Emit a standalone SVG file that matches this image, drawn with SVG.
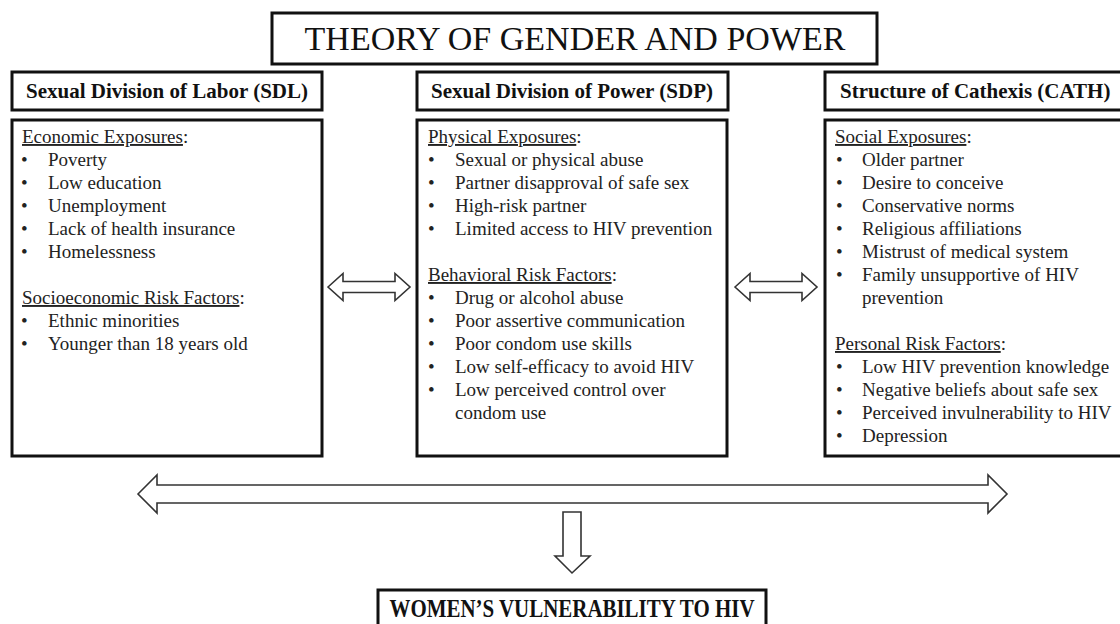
<svg xmlns="http://www.w3.org/2000/svg" width="1120" height="624" viewBox="0 0 1120 624">
<style>
.box{fill:#fff;stroke:#111;stroke-width:3}
.title{font-family:"Liberation Serif","Times New Roman",serif;font-size:34px;fill:#111}
.hdr{font-family:"Liberation Serif","Times New Roman",serif;font-size:21px;font-weight:bold;fill:#111}
.body{font-family:"Liberation Serif","Times New Roman",serif;font-size:19px;fill:#222}
.u{text-decoration:underline}
.arrow{fill:#fff;stroke:#333;stroke-width:1.6;stroke-linejoin:miter}
.bottom{font-family:"Liberation Serif","Times New Roman",serif;font-size:25px;font-weight:bold;fill:#111}
</style>
<rect width="1120" height="624" fill="#fff"/>
<g id="title">
<rect class="box" x="272" y="13" width="605" height="51"/>
<text class="title" x="575" y="50" text-anchor="middle">THEORY OF GENDER AND POWER</text>
</g>
<g id="sdl-header">
<rect class="box" x="12" y="72" width="310" height="38"/>
<text class="hdr" x="167" y="98" text-anchor="middle">Sexual Division of Labor (SDL)</text>
</g>
<g id="sdl-body">
<rect class="box" x="12" y="120" width="310" height="336"/>
<g class="body">
<text x="22" y="143"><tspan class="u">Economic Exposures</tspan>:</text>
<text x="21" y="166">•</text><text x="48" y="166">Poverty</text>
<text x="21" y="189">•</text><text x="48" y="189">Low education</text>
<text x="21" y="212">•</text><text x="48" y="212">Unemployment</text>
<text x="21" y="235">•</text><text x="48" y="235">Lack of health insurance</text>
<text x="21" y="258">•</text><text x="48" y="258">Homelessness</text>
<text x="22" y="304"><tspan class="u">Socioeconomic Risk Factors</tspan>:</text>
<text x="21" y="327">•</text><text x="48" y="327">Ethnic minorities</text>
<text x="21" y="350">•</text><text x="48" y="350">Younger than 18 years old</text>
</g>
</g>
<g id="sdp-header">
<rect class="box" x="417" y="72" width="311" height="38"/>
<text class="hdr" x="572" y="98" text-anchor="middle">Sexual Division of Power (SDP)</text>
</g>
<g id="sdp-body">
<rect class="box" x="417" y="120" width="310" height="336"/>
<g class="body">
<text x="428" y="143"><tspan class="u">Physical Exposures</tspan>:</text>
<text x="428" y="166">•</text><text x="455" y="166">Sexual or physical abuse</text>
<text x="428" y="189">•</text><text x="455" y="189">Partner disapproval of safe sex</text>
<text x="428" y="212">•</text><text x="455" y="212">High-risk partner</text>
<text x="428" y="235">•</text><text x="455" y="235">Limited access to HIV prevention</text>
<text x="428" y="281"><tspan class="u">Behavioral Risk Factors</tspan>:</text>
<text x="428" y="304">•</text><text x="455" y="304">Drug or alcohol abuse</text>
<text x="428" y="327">•</text><text x="455" y="327">Poor assertive communication</text>
<text x="428" y="350">•</text><text x="455" y="350">Poor condom use skills</text>
<text x="428" y="373">•</text><text x="455" y="373">Low self-efficacy to avoid HIV</text>
<text x="428" y="396">•</text><text x="455" y="396">Low perceived control over</text>
<text x="455" y="419">condom use</text>
</g>
</g>
<g id="cath-header">
<rect class="box" x="825" y="72" width="305" height="38"/>
<text class="hdr" x="840" y="98">Structure of Cathexis (CATH)</text>
</g>
<g id="cath-body">
<rect class="box" x="825" y="120" width="305" height="336"/>
<g class="body">
<text x="835" y="143"><tspan class="u">Social Exposures</tspan>:</text>
<text x="836" y="166">•</text><text x="862" y="166">Older partner</text>
<text x="836" y="189">•</text><text x="862" y="189">Desire to conceive</text>
<text x="836" y="212">•</text><text x="862" y="212">Conservative norms</text>
<text x="836" y="235">•</text><text x="862" y="235">Religious affiliations</text>
<text x="836" y="258">•</text><text x="862" y="258">Mistrust of medical system</text>
<text x="836" y="281">•</text><text x="862" y="281">Family unsupportive of HIV</text>
<text x="862" y="304">prevention</text>
<text x="835" y="350"><tspan class="u">Personal Risk Factors</tspan>:</text>
<text x="836" y="373">•</text><text x="862" y="373">Low HIV prevention knowledge</text>
<text x="836" y="396">•</text><text x="862" y="396">Negative beliefs about safe sex</text>
<text x="836" y="419">•</text><text x="862" y="419">Perceived invulnerability to HIV</text>
<text x="836" y="442">•</text><text x="862" y="442">Depression</text>
</g>
</g>
<g id="outcome">
<rect class="box" x="378" y="590" width="388" height="50"/>
<text class="bottom" x="572" y="617" text-anchor="middle" textLength="365" lengthAdjust="spacingAndGlyphs">WOMEN’S VULNERABILITY TO HIV</text>
</g>
<g id="connectors">
<path class="arrow" d="M328,287 L343,273.5 L343,281.5 L395,281.5 L395,273.5 L410,287 L395,300.5 L395,292.5 L343,292.5 L343,300.5 Z"/>
<path class="arrow" d="M735,287 L750,273.5 L750,281.5 L802,281.5 L802,273.5 L817,287 L802,300.5 L802,292.5 L750,292.5 L750,300.5 Z"/>
<path class="arrow" stroke-width="2" d="M138,494 L157,475 L157,485 L988,485 L988,475 L1007,494 L988,513 L988,503 L157,503 L157,513 Z"/>
<path class="arrow" d="M563,512 L581,512 L581,556 L590,556 L572,573 L555,556 L563,556 Z"/>
</g>
</svg>
